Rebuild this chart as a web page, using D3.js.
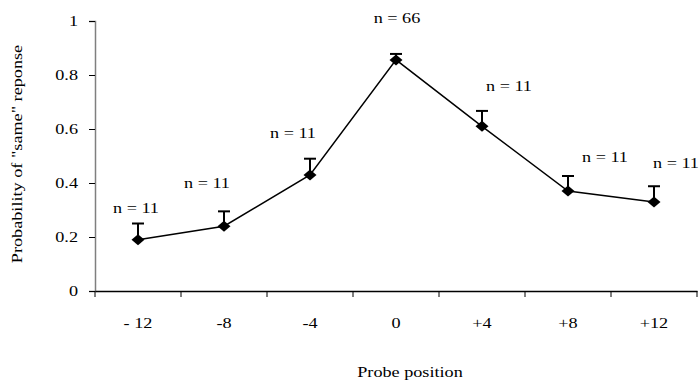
<!DOCTYPE html>
<html>
<head>
<meta charset="utf-8">
<script src="https://cdn.jsdelivr.net/npm/d3@7"></script>
<style>
  body { margin: 0; background: #fff; }
  svg text { font-family: "Liberation Serif", "Times New Roman", serif; font-size: 14px; fill: #000; }
  .wide { transform-box: fill-box; transform-origin: center; transform: scaleX(1.3); }
  .wide-r { transform-box: fill-box; transform-origin: right; transform: scaleX(1.3); }
</style>
</head>
<body>
<script>
var positions = ["- 12", "-8", "-4", "0", "+4", "+8", "+12"];
var probSame = [0.19, 0.24, 0.43, 0.856, 0.61, 0.37, 0.33];
var errUp = [0.06, 0.055, 0.06, 0.022, 0.057, 0.056, 0.058];
var nLabels = ["n = 11", "n = 11", "n = 11", "n = 66", "n = 11", "n = 11", "n = 11"];
var yTicks = [0, 0.2, 0.4, 0.6, 0.8, 1];

// hand placed label nudges (px), like in the original sheet
var labelNudge = [[-2, -15], [-17, -28], [-17, -26], [1, -36], [27, -25], [37, -19], [22, -23]];

var width = 700, height = 383;
var margin = {top: 21, right: 3, bottom: 92, left: 95};

var svg = d3.select("body").append("svg")
    .attr("width", width)
    .attr("height", height);

var x = d3.scaleBand()
    .domain(positions)
    .range([margin.left, width - margin.right])
    .padding(0);

var y = d3.scaleLinear()
    .domain([0, 1])
    .range([height - margin.bottom, margin.top]);

var data = positions.map(function(p, i) {
  return {pos: p, v: probSame[i], e: errUp[i], n: nLabels[i], nudge: labelNudge[i]};
});

function cx(d) { return x(d.pos) + x.bandwidth() / 2; }

// y axis
var gy = svg.append("g")
    .attr("transform", "translate(" + margin.left + ",0)")
    .call(d3.axisLeft(y).tickValues(yTicks).tickSize(6).tickPadding(11)
      .tickFormat(function(d) { return String(d); }));
gy.select(".domain").attr("stroke", "#7f7f7f").attr("stroke-width", 1.5);
gy.selectAll(".tick line").attr("stroke", "#000");
gy.selectAll(".tick text").attr("class", "wide-r");

// x axis
var gx = svg.append("g")
    .attr("transform", "translate(0," + y(0) + ")")
    .call(d3.axisBottom(x).tickSize(0).tickPadding(27));
gx.select(".domain").attr("stroke", "#000").attr("stroke-width", 1.5);
gx.selectAll(".tick text").attr("class", "wide");

var edges = positions.map(function(p) { return x(p); }).concat([x.range()[1]]);
gx.selectAll(".edge").data(edges).enter().append("line")
    .attr("class", "edge")
    .attr("x1", function(d) { return d; })
    .attr("x2", function(d) { return d; })
    .attr("y1", 0).attr("y2", 6)
    .attr("stroke", "#000");

// error bars (upper only)
var eb = svg.append("g").selectAll("g").data(data).enter().append("g");
eb.append("line")
    .attr("x1", cx).attr("x2", cx)
    .attr("y1", function(d) { return y(d.v); })
    .attr("y2", function(d) { return y(d.v + d.e); })
    .attr("stroke", "#000").attr("stroke-width", 2);
eb.append("line")
    .attr("x1", function(d) { return cx(d) - 6; })
    .attr("x2", function(d) { return cx(d) + 6; })
    .attr("y1", function(d) { return y(d.v + d.e); })
    .attr("y2", function(d) { return y(d.v + d.e); })
    .attr("stroke", "#000").attr("stroke-width", 2);

// line
svg.append("path")
    .datum(data)
    .attr("fill", "none")
    .attr("stroke", "#000")
    .attr("stroke-width", 1.5)
    .attr("d", d3.line().x(cx).y(function(d) { return y(d.v); }));

// diamond markers
svg.append("g").selectAll("path").data(data).enter().append("path")
    .attr("transform", function(d) { return "translate(" + cx(d) + "," + y(d.v) + ")"; })
    .attr("d", "M-6.5,0L0,-5.5L6.5,0L0,5.5Z")
    .attr("fill", "#000");

// n labels
svg.append("g").selectAll("text").data(data).enter().append("text")
    .attr("class", "wide")
    .attr("x", function(d) { return cx(d) + d.nudge[0]; })
    .attr("y", function(d) { return y(d.v + d.e) + d.nudge[1]; })
    .attr("dy", "0.35em")
    .attr("text-anchor", "middle")
    .text(function(d) { return d.n; });

// axis titles
svg.append("text")
    .attr("class", "wide")
    .attr("x", 410)
    .attr("y", 377)
    .attr("text-anchor", "middle")
    .text("Probe position");

svg.append("g")
    .attr("transform", "translate(22,154) rotate(-90)")
  .append("text")
    .attr("class", "wide")
    .attr("text-anchor", "middle")
    .text("Probability of \"same\" reponse");
</script>
</body>
</html>
